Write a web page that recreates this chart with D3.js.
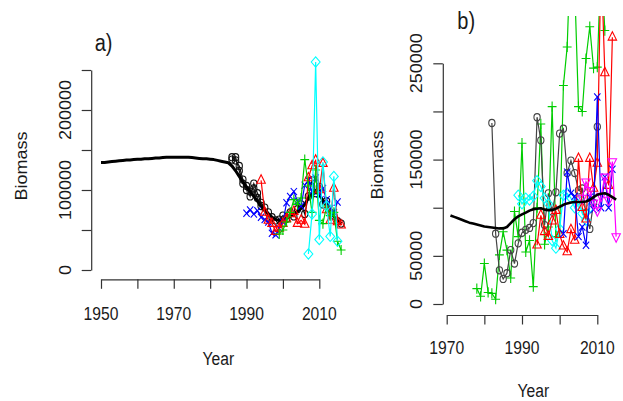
<!DOCTYPE html>
<html><head><meta charset="utf-8">
<script src="https://cdn.jsdelivr.net/npm/d3@7"></script>
<style>body{margin:0;background:#fff}svg{display:block}text{font-family:"Liberation Sans",Arial,sans-serif;fill:#1a1a1a}</style>
</head><body><svg id="c" width="623" height="401"></svg>
<script>
// ---------- Panel a data ----------
const aXTicks = [1950, 1960, 1970, 1980, 1990, 2000, 2010];
const aXLabels = [1950, 1970, 1990, 2010];
const aYTicks = [0, 50000, 100000, 150000, 200000, 250000];
const aYLabels = [0, 100000, 200000];
const aModelStart = 1950;
const aModel = [134500,134500,135000,135500,136000,136500,137000,137500,137500,138000,
  138500,138500,139000,139000,139500,140000,140000,140500,141000,141000,
  141000,141000,141000,141000,141000,140500,140000,139500,139000,139000,
  138500,138000,137000,136000,135000,134000,130000,124000,117000,110000,
  104000,98000,92000,86000,80000,75000,70000,66000,63000,62000,
  62500,64000,67000,70000,73000,77000,82000,90000,96000,98000,
  94000,87000,80000,73000,67000,62000,58000];
const aCircle1Start = 1986;
const aCircle1 = [141000,137000,130000,113000,105000,92000,108000,96000,84000,78000,72000,66000,62000,63000,68000,64000,72000,67000,76000,82000,70000,92000,112000,96000,104000,82000,86000,72000,68000,61000,58000];
const aCircle2Start = 1986;
const aCircle2 = [138000,141000,124000,108000,100000,98000,102000,90000,80000];
const aRedStart = 1994;
const aRed = [112000,72000,62000,58000,48000,52000,58000,64000,70000,73000,58000,62000,57000,115000,130000,137000,100000,133000,75000,62000,102000,60000,56000];
const aBlueStart = 1990;
const aBlue = [71000,75000,70000,74000,66000,63000,60000,46000,44000,52000,60000,84000,92000,98000,86000,80000,106000,112000,98000,115000,95000,102000,88000,77000,72000,85000];
const aGreenStart = 1999;
const aGreen = [45000,50000,60000,72000,88000,82000,90000,138000,105000,72000,125000,62000,58000,80000,68000,72000,36000,25000];
const aCyanStart = 2007;
const aCyan = [20000,70000,260000,38000,135000,80000,42000,117000,36000];

// ---------- Panel b data ----------
const bXTicks = [1970, 1980, 1990, 2000, 2010];
const bXLabels = [1970, 1990, 2010];
const bYTicks = [0, 50000, 100000, 150000, 200000, 250000];
const bYLabels = [0, 50000, 150000, 250000];
const bModelStart = 1971;
const bModel = [92000,90500,89000,87500,86000,84500,83500,82500,81500,80500,
  80000,79500,79000,78500,78500,80000,84000,88000,91000,93000,
  95000,97000,98500,99000,99500,98000,97500,97500,99000,101000,
  103000,104500,105500,106000,106000,106000,106500,108000,111000,113500,
  114500,115000,113500,111000,108500];
const bCircleStart = 1982;
const bCircle = [188000,73000,35000,26000,32000,56000,42000,63000,74000,77000,79000,84000,194000,170000,82000,115000,96000,116000,177000,182000,136000,149000,136000,118000,120000,95000,78000,105000,184000];
const bGreenStart = 1978;
const bGreen = [16000,8000,42000,12000,11000,5000,51000,75000,56000,27000,96000,70000,167000,54000,66000,18000,100000,187000,62000,80000,205000,70000,75000,227000,267000,380000,330000,205000,200000,255000,288000,245000,246000,360000,284000];
const bCyanStart = 1989;
const bCyan = [113000,104000,110000,108000,112000,128000,122000,110000,104000,66000,58000,78000,113000,115000,110000,100000,108000,94000,87000,100000];
const bRedStart = 1994;
const bRed = [61000,92000,75000,70000,86000,97000,72000,60000,54000,77000,66000,151000,100000,88000,151000,120000,146000,360000,240000,123000,277000];
const bBlueStart = 2001;
const bBlue = [73000,137000,115000,112000,70000,80000,61000,111000,98000,215000,100000,132000,100000,140000];
const bMagentaStart = 2006;
const bMagenta = [110000,127000,118000,105000,97000,112000,132000,108000,148000,70000];

// ---------- helpers ----------
const SX = 0.87;          // horizontal squeeze of the reference picture
const R0 = 3.6;           // base symbol radius
const LW = 1.2;           // data line width
const svg = d3.select("#c");
const toPts = (start, vals) => vals.map((v, i) => ({x: start + i, y: v}));

function sym(pch) {
  const r = R0;
  if (pch === 2 || pch === 6) {
    const t = 1.555 * r, hw = t * 0.866 * SX, s = pch === 2 ? 1 : -1;
    return `M0,${-t*s}L${hw},${t/2*s}L${-hw},${t/2*s}Z`;
  }
  if (pch === 3) { const a = 1.414 * r; return `M${-a*SX},0H${a*SX}M0,${-a}V${a}`; }
  if (pch === 4) { return `M${-r*SX},${-r}L${r*SX},${r}M${-r*SX},${r}L${r*SX},${-r}`; }
  if (pch === 5) { const a = 1.414 * r; return `M${-a*SX},0L0,${a}L${a*SX},0L0,${-a}Z`; }
  return null;
}

function series(g, x, y, pts, color, pch) {
  const line = d3.line().x(d => x(d.x)).y(d => y(d.y));
  g.append("path").datum(pts).attr("d", line).attr("fill", "none")
    .attr("stroke", color).attr("stroke-width", LW);
  if (pch === 1) {
    g.selectAll(null).data(pts).enter().append("ellipse")
      .attr("cx", d => x(d.x)).attr("cy", d => y(d.y)).attr("rx", R0 * SX).attr("ry", R0)
      .attr("fill", "none").attr("stroke", color).attr("stroke-width", 1.1);
  } else if (pch) {
    g.selectAll(null).data(pts).enter().append("path")
      .attr("transform", d => `translate(${x(d.x)},${y(d.y)})`)
      .attr("d", sym(pch)).attr("fill", "none").attr("stroke", color).attr("stroke-width", 1.1);
  }
}

function model(g, x, y, pts, lw) {
  g.append("path").datum(pts).attr("d", d3.line().x(d => x(d.x)).y(d => y(d.y)))
    .attr("fill", "none").attr("stroke", "#000").attr("stroke-width", lw)
    .attr("stroke-linejoin", "round");
}

function htext(x, y, s, size, anchor) {
  svg.append("text").attr("transform", `translate(${x},${y}) scale(${SX},1)`)
    .attr("text-anchor", anchor || "middle").attr("font-size", size).text(s);
}
function vtext(x, y, s, size) {
  svg.append("text").attr("transform", `translate(${x},${y}) scale(${SX},1) rotate(-90)`)
    .attr("text-anchor", "middle").attr("font-size", size).text(s);
}

function axes(x, y, xAxisY, yAxisX, xTicks, yTicks) {
  const gx = svg.append("g").attr("transform", `translate(0,${xAxisY})`)
    .call(d3.axisBottom(x).tickValues(xTicks).tickSize(9.5).tickSizeOuter(0).tickFormat(""));
  const gy = svg.append("g").attr("transform", `translate(${yAxisX},0)`)
    .call(d3.axisLeft(y).tickValues(yTicks).tickSize(9.5).tickSizeOuter(0).tickFormat(""));
  [gx, gy].forEach(g => { g.selectAll("path,line").attr("stroke", "#333").attr("stroke-width", 1.2); });
}

const defs = svg.append("defs");
defs.append("clipPath").attr("id", "clipA").append("rect").attr("x", 91).attr("y", 45).attr("width", 262).attr("height", 234);
defs.append("clipPath").attr("id", "clipB").append("rect").attr("x", 443).attr("y", 16).attr("width", 180).attr("height", 299);

// ---------- Panel a ----------
const xA = d3.scaleLinear().domain([1950, 2010]).range([101, 319.3]);
const yA = d3.scaleLinear().domain([0, 250000]).range([270, 70]);
const gA = svg.append("g").attr("clip-path", "url(#clipA)");
series(gA, xA, yA, toPts(aCircle2Start, aCircle2), "#111", 1);
series(gA, xA, yA, toPts(aCircle1Start, aCircle1), "#111", 1);
model(gA, xA, yA, toPts(aModelStart, aModel), 3);
series(gA, xA, yA, toPts(aBlueStart, aBlue), "#0000FF", 4);
series(gA, xA, yA, toPts(aRedStart, aRed), "#FF0000", 2);
series(gA, xA, yA, toPts(aGreenStart, aGreen), "#00CD00", 3);
series(gA, xA, yA, toPts(aCyanStart, aCyan), "#00FFFF", 5);
axes(xA, yA, 279.3, 91.2, aXTicks, aYTicks);
aXLabels.forEach(t => htext(xA(t), 320, t, 18));
aYLabels.forEach(t => vtext(70.5, yA(t), t, 18));
htext(218.3, 365, "Year", 18);
vtext(26.5, 166, "Biomass", 18);
htext(94.7, 50.5, "a)", 23, "start");

// ---------- Panel b ----------
const xB = d3.scaleLinear().domain([1970, 2010]).range([446.7, 597.3]);
const yB = d3.scaleLinear().domain([0, 250000]).range([304, 63.3]);
const gB = svg.append("g").attr("clip-path", "url(#clipB)");
series(gB, xB, yB, toPts(bGreenStart, bGreen), "#00CD00", 3);
series(gB, xB, yB, toPts(bCircleStart, bCircle), "#444", 1);
series(gB, xB, yB, toPts(bCyanStart, bCyan), "#00FFFF", 5);
series(gB, xB, yB, toPts(bRedStart, bRed), "#FF0000", 2);
series(gB, xB, yB, toPts(bBlueStart, bBlue), "#0000FF", 4);
series(gB, xB, yB, toPts(bMagentaStart, bMagenta), "#FF00FF", 6);
model(gB, xB, yB, toPts(bModelStart, bModel), 2.6);
axes(xB, yB, 315, 442.8, bXTicks, bYTicks);
bXLabels.forEach(t => htext(xB(t), 353.5, t, 18));
bYLabels.forEach(t => vtext(421.5, yB(t), t, 18));
htext(533.3, 396.5, "Year", 18);
vtext(383, 165, "Biomass", 18);
htext(457.3, 29, "b)", 23, "start");
</script></body></html>
